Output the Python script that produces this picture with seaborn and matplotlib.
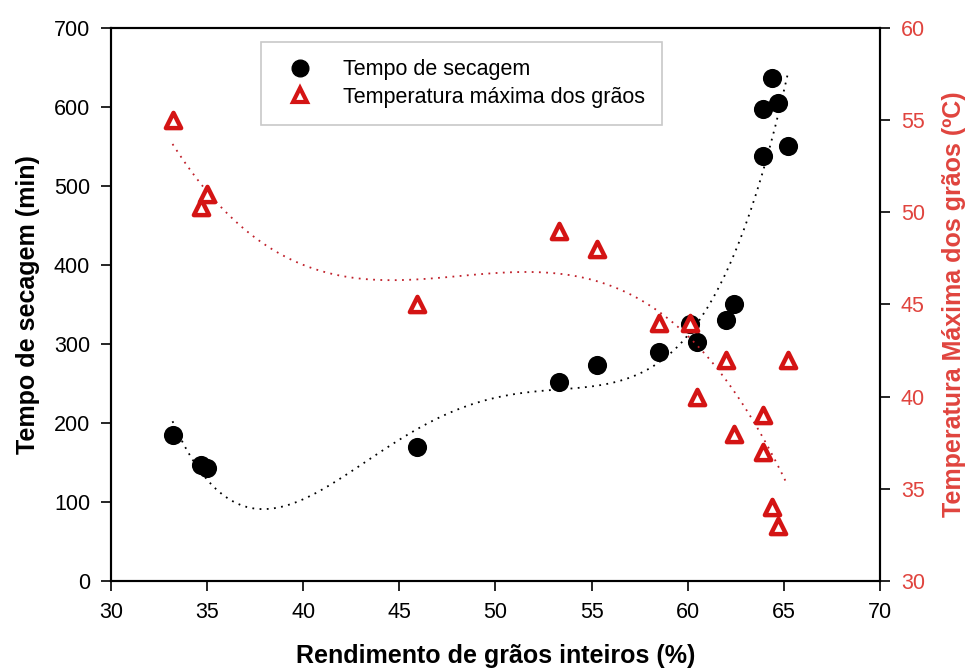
import matplotlib
matplotlib.use("Agg")
import matplotlib.pyplot as plt
import seaborn as sns
import pandas as pd
import numpy as np
from matplotlib.lines import Line2D

# Data
rendimento = [33.2, 34.7, 35.0, 45.9, 53.3, 55.3, 58.5, 60.1, 60.5, 62.0, 62.4, 63.9, 64.4, 64.7, 63.9, 65.2]
tempo = [185, 147, 143, 170, 252, 273, 290, 325, 302, 330, 351, 598, 637, 605, 538, 550]
rend_temp = [33.2, 34.7, 35.0, 45.9, 53.3, 55.3, 58.5, 60.1, 60.5, 62.0, 62.4, 63.9, 63.9, 64.4, 64.7, 65.2]
temperatura = [55, 50.3, 51, 45, 49, 48, 44, 44, 40, 42, 38, 39, 37, 34, 33, 42]

x_ticks = [30, 35, 40, 45, 50, 55, 60, 65, 70]
y_ticks = [0, 100, 200, 300, 400, 500, 600, 700]
y2_ticks = [30, 35, 40, 45, 50, 55, 60]

df1 = pd.DataFrame({"x": rendimento, "y": tempo})
df2 = pd.DataFrame({"x": rend_temp, "y": temperatura})

sns.set_style("ticks")
plt.rcParams['font.family'] = ['Liberation Sans', 'DejaVu Sans']
plt.rcParams['text.color'] = 'black'
plt.rcParams['axes.labelcolor'] = 'black'
plt.rcParams['xtick.color'] = 'black'
plt.rcParams['ytick.color'] = 'black'

red_lab = "#e0443e"
red_mk = "#d41414"

fig = plt.figure(figsize=(9.72, 6.71), dpi=100)
ax = fig.add_axes([0.1142, 0.1341, 0.7911, 0.8242])
ax2 = ax.twinx()

# black trend (polynomial fit)
sns.regplot(data=df1, x="x", y="y", order=4, ci=None, scatter=False, truncate=True, ax=ax,
            line_kws=dict(color="black", lw=1.3, ls=(0, (1, 3))))
sns.scatterplot(data=df1, x="x", y="y", ax=ax, color="black", s=190, edgecolor="black", linewidth=0, zorder=5)

sns.regplot(data=df2, x="x", y="y", order=3, ci=None, scatter=False, truncate=True, ax=ax2,
            line_kws=dict(color="#c0202a", lw=1.3, ls=(0, (1, 3))))
sns.scatterplot(data=df2, x="x", y="y", ax=ax2, marker="^", s=120, facecolor="white",
                edgecolor=red_mk, linewidth=3.2, zorder=5)

ax.set_xlim(30, 70)
ax.set_ylim(0, 700)
ax2.set_ylim(30, 60)
ax.set_xticks(x_ticks)
ax.set_yticks(y_ticks)
ax2.set_yticks(y2_ticks)

ax.set_xlabel("Rendimento de grãos inteiros (%)", fontsize=18, fontweight="bold", labelpad=15)
ax.set_ylabel("Tempo de secagem (min)", fontsize=18, fontweight="bold", labelpad=10, color="black")
ax2.set_ylabel("Temperatura Máxima dos grãos (ºC)", fontsize=18, fontweight="bold", color=red_lab, labelpad=12)

ax.tick_params(axis="both", labelsize=15.5, direction="out", length=7, width=1.2, colors="black", pad=8)
ax2.tick_params(axis="y", labelsize=15.5, direction="out", length=7, width=1.2, color="black", labelcolor=red_lab, pad=8)

for a in (ax, ax2):
    for s in a.spines.values():
        s.set_visible(True)
        s.set_linewidth(1.5)
        s.set_color("black")

handles = [
    Line2D([], [], marker="o", ls="none", color="black", markersize=12),
    Line2D([], [], marker="^", ls="none", markerfacecolor="white", markeredgecolor=red_mk,
           markeredgewidth=3.0, markersize=10),
]
leg = ax.legend(handles, ["Tempo de secagem", "Temperatura máxima dos grãos"],
                loc="upper left", bbox_to_anchor=(261/972, 1 - 42/671), bbox_transform=fig.transFigure,
                fontsize=15.5, frameon=True, fancybox=False, borderpad=0.8, handletextpad=1.0,
                labelspacing=0.3, borderaxespad=0)
leg.get_frame().set_edgecolor("#bbbbbb")
leg.get_frame().set_linewidth(1.2)
for t in leg.get_texts():
    t.set_color("black")

fig.savefig("out.png", dpi=100)
